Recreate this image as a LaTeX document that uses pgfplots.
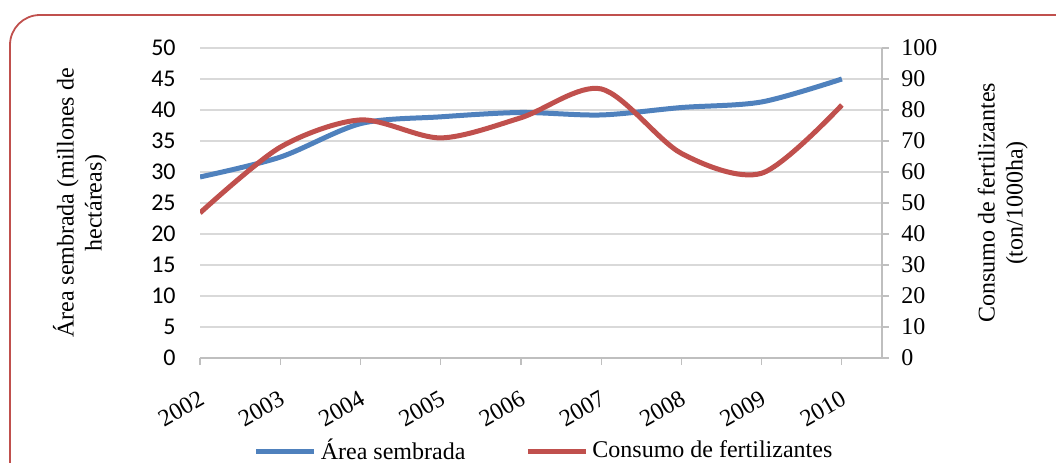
\documentclass[border=0pt]{standalone}
\usepackage{fontspec}
\setmainfont{Liberation Serif}
\newfontfamily\calibri{Carlito}
\usepackage{pgfplots}
\pgfplotsset{compat=1.18}
\definecolor{cblue}{HTML}{4F81BD}
\definecolor{cred}{HTML}{C0504D}
\definecolor{cgrid}{HTML}{D9D9D9}
\definecolor{caxis}{HTML}{BFBFBF}
\begin{document}
\fontsize{12}{14}\selectfont
\begin{tikzpicture}
\useasboundingbox (0,0) rectangle (528pt,231pt);
\begin{scope}
\clip (0,0) rectangle (528pt,231pt);
\draw[cred, line width=0.9pt, rounded corners=15pt] (5pt,-20pt) rectangle (545pt,223.5pt);
\end{scope}
\begin{axis}[
  at={(100pt,52pt)}, anchor=south west,
  scale only axis, width=341pt, height=155pt,
  xmin=0, xmax=8.5, ymin=0, ymax=50,
  xtick={0,1,...,8}, xticklabels={2002,2003,2004,2005,2006,2007,2008,2009,2010},
  ytick={0,5,...,50},
  axis x line*=bottom, axis y line*=left,
  x axis line style={draw=caxis, line width=0.6pt, -},
  y axis line style={draw=none},
  ymajorgrids, grid style={cgrid, line width=0.6pt},
  xtick style={draw=caxis, line width=0.6pt},
  xtick align=outside, major tick length=3.5pt,
  ytick style={draw=none},
  /pgf/number format/assume math mode=true,
  yticklabel style={font=\calibri\fontsize{12}{14}\selectfont, anchor=east, xshift=-8pt},
  xticklabel style={font=\rmfamily\fontsize{12}{14}\selectfont, rotate=30, anchor=north east, inner sep=1pt, yshift=-9pt, xshift=-6pt},
  ylabel={Área sembrada  (millones de\\hectáreas)},
  every axis y label/.style={at={(axis description cs:-0.176,0.5)}, rotate=90, anchor=center, align=center, font=\rmfamily\fontsize{12}{14}\selectfont},
]
\addplot[cblue, line width=2.5pt, smooth, tension=0.5] coordinates {(0,29.2)(1,32.4)(2,37.8)(3,38.9)(4,39.6)(5,39.2)(6,40.4)(7,41.3)(8,45)};
\end{axis}
\begin{axis}[
  at={(100pt,52pt)}, anchor=south west,
  scale only axis, width=341pt, height=155pt,
  xmin=0, xmax=8.5, ymin=0, ymax=100,
  ytick={0,10,...,100},
  axis x line=none, axis y line*=right,
  y axis line style={draw=caxis, line width=0.6pt, -},
  ytick style={draw=caxis, line width=0.6pt},
  ytick align=outside, major tick length=3.5pt,
  /pgf/number format/assume math mode=true,
  yticklabel style={font=\rmfamily\fontsize{12}{14}\selectfont, anchor=west, xshift=2pt},
  ylabel={Consumo de fertilizantes\\(ton/1000ha)},
  every axis y label/.style={at={(axis description cs:1.177,0.5)}, rotate=90, anchor=center, align=center, font=\rmfamily\fontsize{12}{14}\selectfont},
  legend style={at={(0.506,-0.3)}, anchor=center, draw=none, fill=none, legend columns=2,
    font=\rmfamily\fontsize{12}{14}\selectfont, inner sep=0pt,
    /tikz/every even column/.append style={column sep=28pt}},
  legend cell align=left,
  legend image code/.code={\draw[#1, line width=2.5pt] (0pt,0pt) -- (29pt,0pt);},
]
\addlegendimage{cblue}
\addlegendentry{Área sembrada}
\addplot[cred, line width=2.5pt, smooth, tension=0.5] coordinates {(0,46.8)(1,68)(2,76.8)(3,71)(4,77.5)(5,86.8)(6,66)(7,59.6)(8,81.6)};
\addlegendentry{Consumo de fertilizantes}
\end{axis}
\end{tikzpicture}
\end{document}
